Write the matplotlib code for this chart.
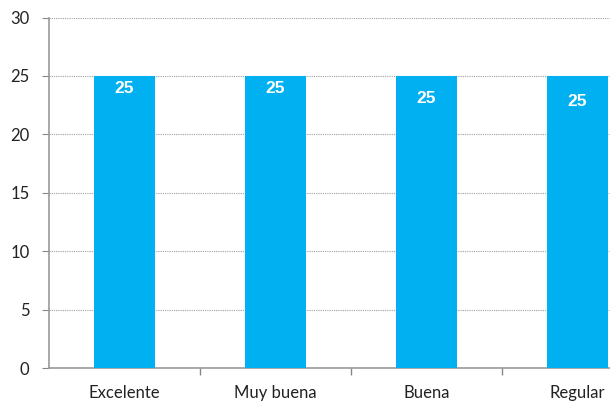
import matplotlib.pyplot as plt
from matplotlib.ticker import FixedLocator

categories = ['Excelente', 'Muy buena', 'Buena', 'Regular']
values = [25, 25, 25, 25]
y_ticks = [0, 5, 10, 15, 20, 25, 30]

# desplazamiento de cada etiqueta bajo el tope de la barra (como en el original)
label_drop = [1.1, 1.1, 1.95, 2.15]

plt.rcParams['font.family'] = ['Lato', 'DejaVu Sans']

fig = plt.figure(figsize=(6.1, 4.03), dpi=100)
ax = fig.add_axes([0.0803, 0.0868, 0.9197, 0.8697])

x = range(len(categories))
ax.bar(x, values, width=0.4, color='#00B0F0', zorder=3)

# etiquetas dentro de las barras
for xi, v, d in zip(x, values, label_drop):
    ax.text(xi, v - d, str(v), ha='center', va='center', color='white',
            fontsize=12.5, fontweight='bold', family='Liberation Sans', zorder=4)

ax.set_xlim(-0.5, 3.215)
ax.set_ylim(0, 30)
ax.set_yticks(y_ticks)
ax.yaxis.grid(True, linestyle=(0, (1, 1)), color='#a0a0a0', linewidth=0.8, zorder=0)

ax.set_xticks(list(x))
ax.set_xticklabels(categories, fontsize=12, color='#222222')
ax.xaxis.set_minor_locator(FixedLocator([0.5, 1.5, 2.5]))
ax.tick_params(axis='x', which='major', length=0, pad=12)
ax.tick_params(axis='x', which='minor', length=5, color='#888888', width=1)
ax.tick_params(axis='y', length=5, color='#888888', labelsize=12, labelcolor='#222222', pad=9)

for s in ['top', 'right']:
    ax.spines[s].set_visible(False)
for s in ['left', 'bottom']:
    ax.spines[s].set_color('#999999')
    ax.spines[s].set_linewidth(1.2)

fig.savefig('out.png', dpi=100)
